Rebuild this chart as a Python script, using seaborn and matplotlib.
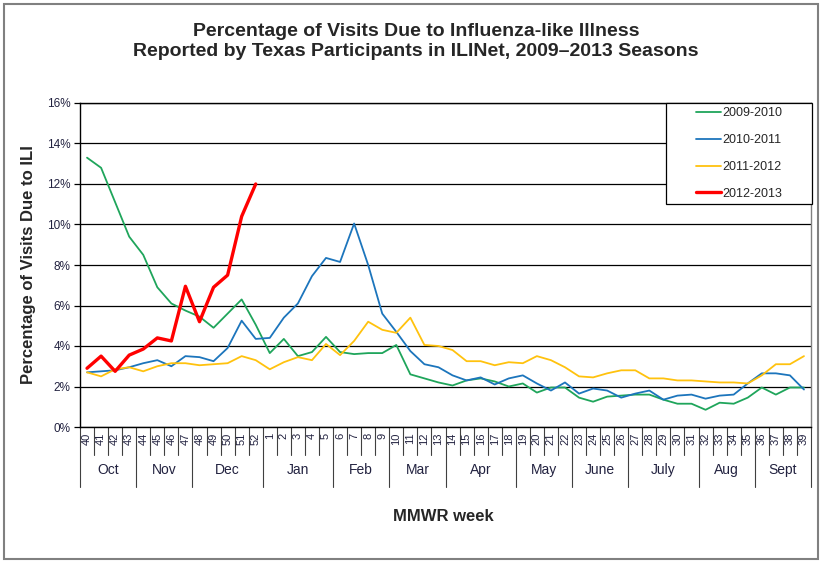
import numpy as np
import pandas as pd
import matplotlib
matplotlib.use("Agg")
import matplotlib.pyplot as plt
import matplotlib.transforms as mtransforms
from matplotlib.patches import Rectangle
from matplotlib.lines import Line2D
import seaborn as sns

# MMWR weeks of the season, week 40 through week 39
weeks = list(range(40, 53)) + list(range(1, 40))

# month groups under the week labels (name, number of weeks)
months = ["Oct", "Nov", "Dec", "Jan", "Feb", "Mar", "Apr", "May", "June", "July", "Aug", "Sept"]
month_weeks = [4, 4, 5, 5, 4, 4, 5, 4, 4, 5, 4, 4]

# % of visits due to ILI
ili_2009 = [13.3, 12.8, 11.1, 9.4, 8.5, 6.9, 6.1, 5.75, 5.45, 4.9, 5.6, 6.3, 5.05,
            3.65, 4.35, 3.5, 3.7, 4.45, 3.7, 3.6, 3.65, 3.65, 4.05, 2.6, 2.4, 2.2,
            2.05, 2.3, 2.4, 2.25, 2.0, 2.15, 1.7, 1.95, 1.95, 1.45, 1.25, 1.5, 1.55,
            1.6, 1.6, 1.35, 1.15, 1.15, 0.85, 1.2, 1.15, 1.45, 1.95, 1.6, 1.95, 1.95]
ili_2010 = [2.7, 2.75, 2.8, 2.95, 3.15, 3.3, 3.0, 3.5, 3.45, 3.25, 3.9, 5.25, 4.35,
            4.4, 5.4, 6.1, 7.45, 8.35, 8.15, 10.05, 8.0, 5.6, 4.7, 3.75, 3.1, 2.95,
            2.55, 2.3, 2.45, 2.1, 2.4, 2.55, 2.15, 1.8, 2.2, 1.65, 1.9, 1.8, 1.45,
            1.65, 1.8, 1.35, 1.55, 1.6, 1.4, 1.55, 1.6, 2.15, 2.65, 2.65, 2.55, 1.85]
ili_2011 = [2.7, 2.5, 2.85, 2.95, 2.75, 3.0, 3.15, 3.15, 3.05, 3.1, 3.15, 3.5, 3.3,
            2.85, 3.2, 3.45, 3.3, 4.1, 3.55, 4.25, 5.2, 4.8, 4.65, 5.4, 4.05, 4.0,
            3.8, 3.25, 3.25, 3.05, 3.2, 3.15, 3.5, 3.3, 2.95, 2.5, 2.45, 2.65, 2.8,
            2.8, 2.4, 2.4, 2.3, 2.3, 2.25, 2.2, 2.2, 2.15, 2.55, 3.1, 3.1, 3.5]
ili_2012 = [2.9, 3.5, 2.75, 3.55, 3.85, 4.4, 4.25, 6.95, 5.2, 6.9, 7.5, 10.4, 12.0]

seasons = ["2009-2010", "2010-2011", "2011-2012", "2012-2013"]
colors = {"2009-2010": "#1fa55b", "2010-2011": "#1c75bc",
          "2011-2012": "#ffc20e", "2012-2013": "#ff0000"}
widths = {"2009-2010": 1.3, "2010-2011": 1.3, "2011-2012": 1.3, "2012-2013": 2.4}

# long-form table
rows = []
for season, vals in zip(seasons, [ili_2009, ili_2010, ili_2011, ili_2012]):
    for i, v in enumerate(vals):
        rows.append({"pos": i, "week": weeks[i], "season": season, "ili": v})
df = pd.DataFrame(rows)

sns.set_style("white")
plt.rcParams["font.family"] = ["Liberation Sans", "DejaVu Sans"]

fig = plt.figure(figsize=(8.27, 5.65), dpi=100)
ax = fig.add_axes([80 / 827, 1 - 427 / 565, 731 / 827, 324 / 565])

for season in seasons:
    sns.lineplot(data=df[df["season"] == season], x="pos", y="ili", ax=ax,
                 color=colors[season], linewidth=widths[season], zorder=3)

ax.set_xlim(-0.5, len(weeks) - 0.5)
ax.set_ylim(0, 16)
ax.set_yticks(np.arange(0, 17, 2))
ax.set_yticklabels([f"{t}%" for t in range(0, 17, 2)], fontsize=8.5, color="#222240")
ax.yaxis.grid(True, color="black", linewidth=0.9)
ax.set_axisbelow(True)
ax.tick_params(axis="y", left=True, length=4, width=0.9, color="black", pad=3)

ax.set_xticks(range(len(weeks)))
ax.set_xticklabels([str(w) for w in weeks], rotation=90, fontsize=8, color="#222240")
ax.tick_params(axis="x", length=0, pad=4)

for side in ["left", "bottom", "top"]:
    ax.spines[side].set_color("black")
    ax.spines[side].set_linewidth(1.0)
ax.spines["right"].set_color("#808080")
ax.spines["right"].set_linewidth(1.0)

ax.set_xlabel("")
ax.set_ylabel("Percentage of Visits Due to ILI", fontsize=12, fontweight="bold")
ax.yaxis.set_label_coords(-0.060, 0.5)

# week cells and month groups below the axis
trans = mtransforms.blended_transform_factory(ax.transData, ax.transAxes)
month_edges = np.concatenate([[0], np.cumsum(month_weeks)])
for b in range(len(weeks) + 1):
    low = -0.185 if b in month_edges else -0.086
    ax.plot([b - 0.5, b - 0.5], [0, low], transform=trans, color="#404040",
            linewidth=0.8, clip_on=False)
for name, start, n in zip(months, month_edges[:-1], month_weeks):
    ax.text(start + n / 2 - 0.5, -0.133, name, transform=trans, ha="center",
            va="center", fontsize=10, color="#222240")

ax.text(0.497, -0.275, "MMWR week", transform=ax.transAxes, ha="center", va="center",
        fontsize=12, fontweight="bold")

fig.text(0.503, 1 - 36.5 / 565, "Percentage of Visits Due to Influenza-like Illness",
         ha="center", va="baseline", fontsize=14, fontweight="bold")
fig.text(0.503, 1 - 56.5 / 565, "Reported by Texas Participants in ILINet, 2009\u20132013 Seasons",
         ha="center", va="baseline", fontsize=14, fontweight="bold")

# legend box
ax.add_patch(Rectangle((0.8016, 0.688), 0.1997, 0.312, transform=ax.transAxes,
                       facecolor="white", edgecolor="black", linewidth=0.9,
                       zorder=5, clip_on=False))
handles = [Line2D([0], [0], color=colors[s], linewidth=widths[s]) for s in seasons]
leg = ax.legend(handles, seasons, loc="center", bbox_to_anchor=(0.9015, 0.844),
                frameon=False, fontsize=9, handlelength=2.0, handletextpad=0.1,
                labelspacing=1.18)
leg.set_zorder(6)

# outer chart border
fig.patches.append(Rectangle((4 / 827, 1 - 559 / 565), 814 / 827, 555 / 565,
                             transform=fig.transFigure, fill=False,
                             edgecolor="#808080", linewidth=1.5))

fig.savefig("out.png", dpi=100)
